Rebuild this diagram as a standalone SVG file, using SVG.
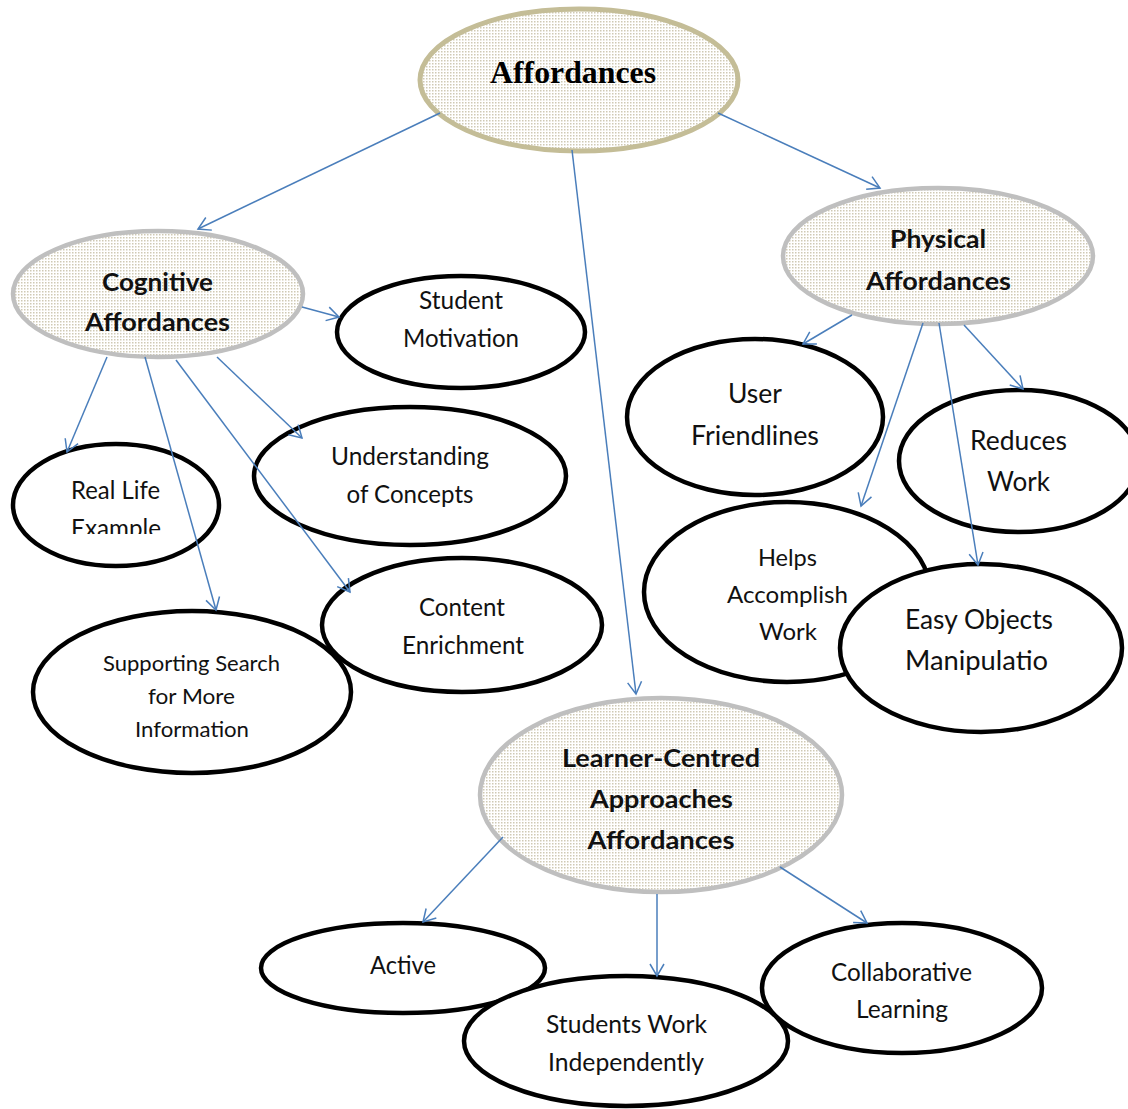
<svg xmlns="http://www.w3.org/2000/svg" width="1128" height="1109" viewBox="0 0 1128 1109">
<style>
.bg{fill:#ffffff}
.main{fill:url(#dots);stroke:#c4bd97;stroke-width:5}
.cat{fill:url(#dots);stroke:#bfbfbf;stroke-width:4.5}
.leaf{fill:#ffffff;stroke:#000000;stroke-width:4.5}
.t{font-family:Lato,"Open Sans",sans-serif;font-size:25px;fill:#111;text-anchor:middle}
.b{font-family:Lato,"Open Sans",sans-serif;font-size:25px;font-weight:bold;fill:#111;text-anchor:middle}
.serif{font-family:"Liberation Serif","Times New Roman",serif;font-size:32px;font-weight:bold;fill:#000;text-anchor:middle}
.conn line{stroke:#4a7ebb;stroke-width:1.5;fill:none;marker-end:url(#arr)}
</style>
<defs>
<pattern id="dots" width="3" height="3" patternUnits="userSpaceOnUse">
<rect width="3" height="3" fill="#ffffff"/>
<rect width="1.5" height="1.5" fill="#cfc9b4"/>
</pattern>
<marker id="arr" viewBox="-14 -9 16 18" markerWidth="16" markerHeight="18" refX="0" refY="0" orient="auto" markerUnits="userSpaceOnUse">
<path d="M-12,-7 L0,0 L-12,7" fill="none" stroke="#4a7ebb" stroke-width="1.5"/>
</marker>
<clipPath id="rlclip"><rect x="0" y="440" width="240" height="94"/></clipPath>
</defs>
<rect class="bg" x="0" y="0" width="1128" height="1109"/>

<g id="affordances">
<ellipse class="main" cx="579" cy="80" rx="159" ry="71"/>
<text class="serif" x="573" y="83" textLength="166" lengthAdjust="spacingAndGlyphs">Affordances</text>
</g>

<g id="cognitive">
<ellipse class="cat" cx="158" cy="294" rx="145" ry="63"/>
<text class="b" x="157.5" y="291" textLength="111" lengthAdjust="spacingAndGlyphs">Cognitive</text>
<text class="b" x="157.5" y="331" textLength="145" lengthAdjust="spacingAndGlyphs">Affordances</text>
</g>

<g id="physical">
<ellipse class="cat" cx="938" cy="256" rx="155" ry="68"/>
<text class="b" x="938" y="248" textLength="96" lengthAdjust="spacingAndGlyphs">Physical</text>
<text class="b" x="938.5" y="290" textLength="145" lengthAdjust="spacingAndGlyphs">Affordances</text>
</g>

<g id="student-motivation">
<ellipse class="leaf" cx="461" cy="332" rx="124" ry="56"/>
<text class="t" x="461" y="309" textLength="84" lengthAdjust="spacingAndGlyphs">Student</text>
<text class="t" x="461" y="347" textLength="116" lengthAdjust="spacingAndGlyphs">Motivation</text>
</g>

<g id="understanding">
<ellipse class="leaf" cx="410" cy="476" rx="156" ry="69"/>
<text class="t" x="410" y="465" textLength="158" lengthAdjust="spacingAndGlyphs">Understanding</text>
<text class="t" x="410" y="503" textLength="127" lengthAdjust="spacingAndGlyphs">of Concepts</text>
</g>

<g id="real-life">
<ellipse class="leaf" cx="116" cy="505" rx="103" ry="61"/>
<g clip-path="url(#rlclip)">
<text class="t" x="115.5" y="499" textLength="89" lengthAdjust="spacingAndGlyphs">Real Life</text>
<text class="t" x="116" y="537" textLength="90" lengthAdjust="spacingAndGlyphs">Example</text>
</g>
</g>

<g id="content-enrichment">
<ellipse class="leaf" cx="462" cy="625" rx="140" ry="67"/>
<text class="t" x="462" y="616" textLength="86" lengthAdjust="spacingAndGlyphs">Content</text>
<text class="t" x="463" y="654" textLength="122" lengthAdjust="spacingAndGlyphs">Enrichment</text>
</g>

<g id="supporting-search">
<ellipse class="leaf" cx="192" cy="692" rx="159" ry="81"/>
<text class="t" style="font-size:22px" x="191.5" y="671" textLength="177" lengthAdjust="spacingAndGlyphs">Supporting Search</text>
<text class="t" style="font-size:22px" x="191.5" y="704" textLength="87" lengthAdjust="spacingAndGlyphs">for More</text>
<text class="t" style="font-size:22px" x="192" y="737" textLength="114" lengthAdjust="spacingAndGlyphs">Information</text>
</g>

<g id="user-friendlines">
<ellipse class="leaf" cx="755" cy="417" rx="128" ry="78"/>
<text class="t" style="font-size:26px" x="755" y="403" textLength="54" lengthAdjust="spacingAndGlyphs">User</text>
<text class="t" style="font-size:26px" x="755" y="445" textLength="128" lengthAdjust="spacingAndGlyphs">Friendlines</text>
</g>

<g id="reduces-work">
<ellipse class="leaf" cx="1019" cy="461" rx="120" ry="71"/>
<text class="t" style="font-size:26px" x="1018.5" y="450" textLength="97" lengthAdjust="spacingAndGlyphs">Reduces</text>
<text class="t" style="font-size:26px" x="1018.5" y="491" textLength="63" lengthAdjust="spacingAndGlyphs">Work</text>
</g>

<g id="helps-accomplish">
<ellipse class="leaf" cx="787" cy="592" rx="143" ry="90"/>
<text class="t" style="font-size:24px" x="787.5" y="566" textLength="59" lengthAdjust="spacingAndGlyphs">Helps</text>
<text class="t" style="font-size:24px" x="787.5" y="603" textLength="121" lengthAdjust="spacingAndGlyphs">Accomplish</text>
<text class="t" style="font-size:24px" x="788" y="640" textLength="58" lengthAdjust="spacingAndGlyphs">Work</text>
</g>

<g id="easy-objects">
<ellipse class="leaf" cx="981" cy="648" rx="141" ry="84"/>
<text class="t" style="font-size:26px" x="979" y="629" textLength="148" lengthAdjust="spacingAndGlyphs">Easy Objects</text>
<text class="t" style="font-size:26px" x="976.5" y="670" textLength="143" lengthAdjust="spacingAndGlyphs">Manipulatio</text>
</g>

<g id="learner-centred">
<ellipse class="cat" cx="661" cy="795" rx="181" ry="97"/>
<text class="b" x="661" y="767" textLength="198" lengthAdjust="spacingAndGlyphs">Learner-Centred</text>
<text class="b" x="661.5" y="808" textLength="143" lengthAdjust="spacingAndGlyphs">Approaches</text>
<text class="b" x="661" y="849" textLength="147" lengthAdjust="spacingAndGlyphs">Affordances</text>
</g>

<g id="active">
<ellipse class="leaf" cx="403" cy="968" rx="142" ry="45"/>
<text class="t" x="403" y="974" textLength="66" lengthAdjust="spacingAndGlyphs">Active</text>
</g>

<g id="students-work">
<ellipse class="leaf" cx="626" cy="1041" rx="162" ry="65"/>
<text class="t" x="626.5" y="1033" textLength="161" lengthAdjust="spacingAndGlyphs">Students Work</text>
<text class="t" x="626" y="1071" textLength="156" lengthAdjust="spacingAndGlyphs">Independently</text>
</g>

<g id="collaborative">
<ellipse class="leaf" cx="902" cy="988" rx="140" ry="65"/>
<text class="t" x="901.5" y="981" textLength="141" lengthAdjust="spacingAndGlyphs">Collaborative</text>
<text class="t" x="902" y="1018" textLength="92" lengthAdjust="spacingAndGlyphs">Learning</text>
</g>

<g id="connectors" class="conn">
<line x1="440" y1="113" x2="198" y2="229"/>
<line x1="718" y1="113" x2="880" y2="188"/>
<line x1="572" y1="150" x2="636" y2="694"/>
<line x1="302" y1="307" x2="339" y2="317"/>
<line x1="107" y1="357" x2="67" y2="452"/>
<line x1="145" y1="357" x2="216" y2="610"/>
<line x1="176" y1="360" x2="350" y2="592"/>
<line x1="217" y1="357" x2="302" y2="438"/>
<line x1="852" y1="315" x2="803" y2="344"/>
<line x1="923" y1="323" x2="861" y2="506"/>
<line x1="939" y1="323" x2="978" y2="565"/>
<line x1="964" y1="325" x2="1023" y2="389"/>
<line x1="503" y1="837" x2="423" y2="922"/>
<line x1="657" y1="894" x2="657" y2="976"/>
<line x1="780" y1="867" x2="867" y2="923"/>
</g>
</svg>
